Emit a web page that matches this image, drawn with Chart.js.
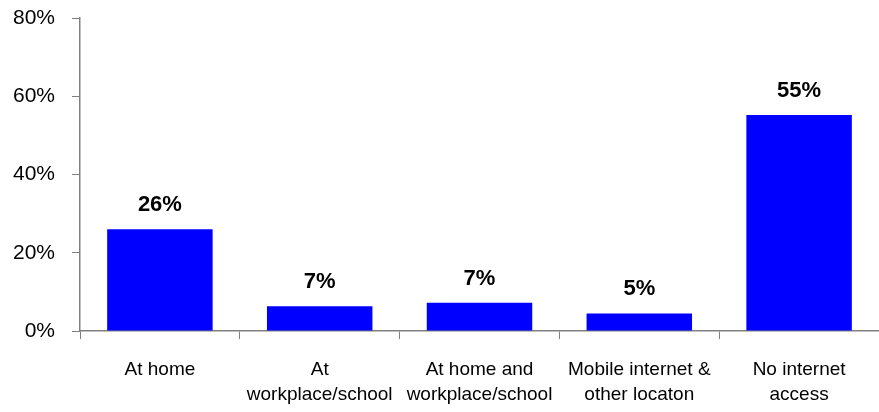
<!DOCTYPE html>
<html>
<head>
    <title>Internet access location</title>
    <script src="https://cdn.jsdelivr.net/npm/chart.js"></script>
    <style>
        html, body { margin: 0; padding: 0; background: white; }
        .chart-box { width: 879px; height: 412px; position: relative; }
    </style>
</head>
<body>
    <div class="chart-box">
        <canvas id="accessChart"></canvas>
    </div>

<script>
// 数据
const categories = [
    'At home',
    ['At', 'workplace/school'],
    ['At home and', 'workplace/school'],
    ['Mobile internet &', 'other locaton'],
    ['No internet', 'access']
];
const shares = [26, 6.3, 7.2, 4.5, 55.2];
const shareLabels = ['26%', '7%', '7%', '5%', '55%'];
const yTicks = [0, 20, 40, 60, 80];

const axisGray = '#808080';
const fontFamily = 'Arial, "Liberation Sans", sans-serif';

// 柱顶数值标签
const valueLabels = {
    id: 'valueLabels',
    afterDatasetsDraw(chart) {
        const ctx = chart.ctx;
        const meta = chart.getDatasetMeta(0);
        ctx.save();
        ctx.font = 'bold 22px ' + fontFamily;
        ctx.fillStyle = '#000';
        ctx.textAlign = 'center';
        ctx.textBaseline = 'alphabetic';
        meta.data.forEach((bar, i) => {
            ctx.fillText(shareLabels[i], bar.x, bar.y - 18);
        });
        ctx.restore();
    }
};

const accessConfig = {
    type: 'bar',
    data: {
        labels: categories,
        datasets: [{
            data: shares,
            backgroundColor: '#0000ff',
            borderWidth: 0,
            categoryPercentage: 1,
            barPercentage: 0.66
        }]
    },
    options: {
        responsive: true,
        maintainAspectRatio: false,
        animation: false,
        layout: { padding: { top: 18, right: 0, bottom: 0, left: 0 } },
        plugins: {
            legend: { display: false },
            tooltip: { enabled: false }
        },
        scales: {
            x: {
                grid: {
                    offset: true,
                    drawOnChartArea: false,
                    color: axisGray,
                    tickLength: 8
                },
                border: { color: axisGray, width: 1.5 },
                ticks: {
                    color: '#000',
                    font: { family: fontFamily, size: 19, lineHeight: 1.32 },
                    padding: 18,
                    maxRotation: 0,
                    autoSkip: false
                },
                afterFit(axis) {
                    axis.height = 81;
                    axis.paddingLeft = 0;
                    axis.paddingRight = 0;
                }
            },
            y: {
                min: 0,
                max: 80,
                afterBuildTicks(axis) {
                    axis.ticks = yTicks.map(v => ({ value: v }));
                },
                grid: {
                    drawOnChartArea: false,
                    color: axisGray,
                    tickLength: 8
                },
                border: { color: axisGray, width: 1.5 },
                ticks: {
                    color: '#000',
                    font: { family: fontFamily, size: 21 },
                    padding: 17,
                    callback: v => v + '%'
                },
                afterFit(axis) {
                    axis.width = 80;
                    axis.paddingTop = 0;
                    axis.paddingBottom = 0;
                }
            }
        }
    },
    plugins: [valueLabels]
};

window.onload = () => {
    new Chart(document.getElementById('accessChart'), accessConfig);
};
</script>
</body>
</html>
